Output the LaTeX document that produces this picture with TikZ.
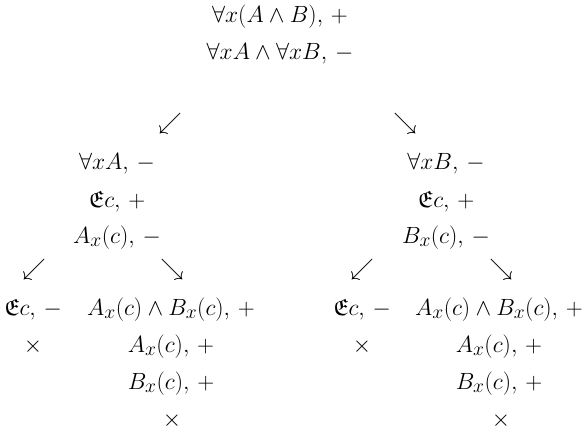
\documentclass[tikz,border=0pt]{standalone}
\usepackage{amssymb}
\begin{document}
\begin{tikzpicture}[x=1.06pt,y=-1.06pt,
  f/.style={anchor=base,inner sep=0pt,font=\Huge}]
\useasboundingbox (0,0) rectangle (585,426);
\node[f] (t1) at (280,23) {$\forall x(A\wedge B),\,+$};
\node[f] (t2) at (280,60) {$\forall xA\wedge\forall xB,\,-$};
\node[f] (aL) at (170,129) {$\swarrow$};
\node[f] (aR) at (405,129) {$\searrow$};
\node[f] (L1) at (117,169) {$\forall xA,\,-$};
\node[f] (L2) at (117,207) {$\mathfrak{E}c,\,+$};
\node[f] (L3) at (117,243) {$A_x(c),\,-$};
\node[f] (R1) at (446,169) {$\forall xB,\,-$};
\node[f] (R2) at (446,207) {$\mathfrak{E}c,\,+$};
\node[f] (R3) at (446,243) {$B_x(c),\,-$};
\node[f] (aLL) at (34,275) {$\swarrow$};
\node[f] (aLR) at (172,275) {$\searrow$};
\node[f] (aRL) at (362,275) {$\swarrow$};
\node[f] (aRR) at (501,275) {$\searrow$};
\node[f] (LL1) at (33,315) {$\mathfrak{E}c,\,-$};
\node[f] (LL2) at (33,352) {$\times$};
\node[f] (LR1) at (171,315) {$A_x(c)\wedge B_x(c),\,+$};
\node[f] (LR2) at (171,352) {$A_x(c),\,+$};
\node[f] (LR3) at (171,389) {$B_x(c),\,+$};
\node[f] (LR4) at (172,426) {$\times$};
\node[f] (RL1) at (362,315) {$\mathfrak{E}c,\,-$};
\node[f] (RL2) at (362,352) {$\times$};
\node[f] (RR1) at (499,315) {$A_x(c)\wedge B_x(c),\,+$};
\node[f] (RR2) at (499,352) {$A_x(c),\,+$};
\node[f] (RR3) at (499,389) {$B_x(c),\,+$};
\node[f] (RR4) at (501,426) {$\times$};
\end{tikzpicture}
\end{document}
